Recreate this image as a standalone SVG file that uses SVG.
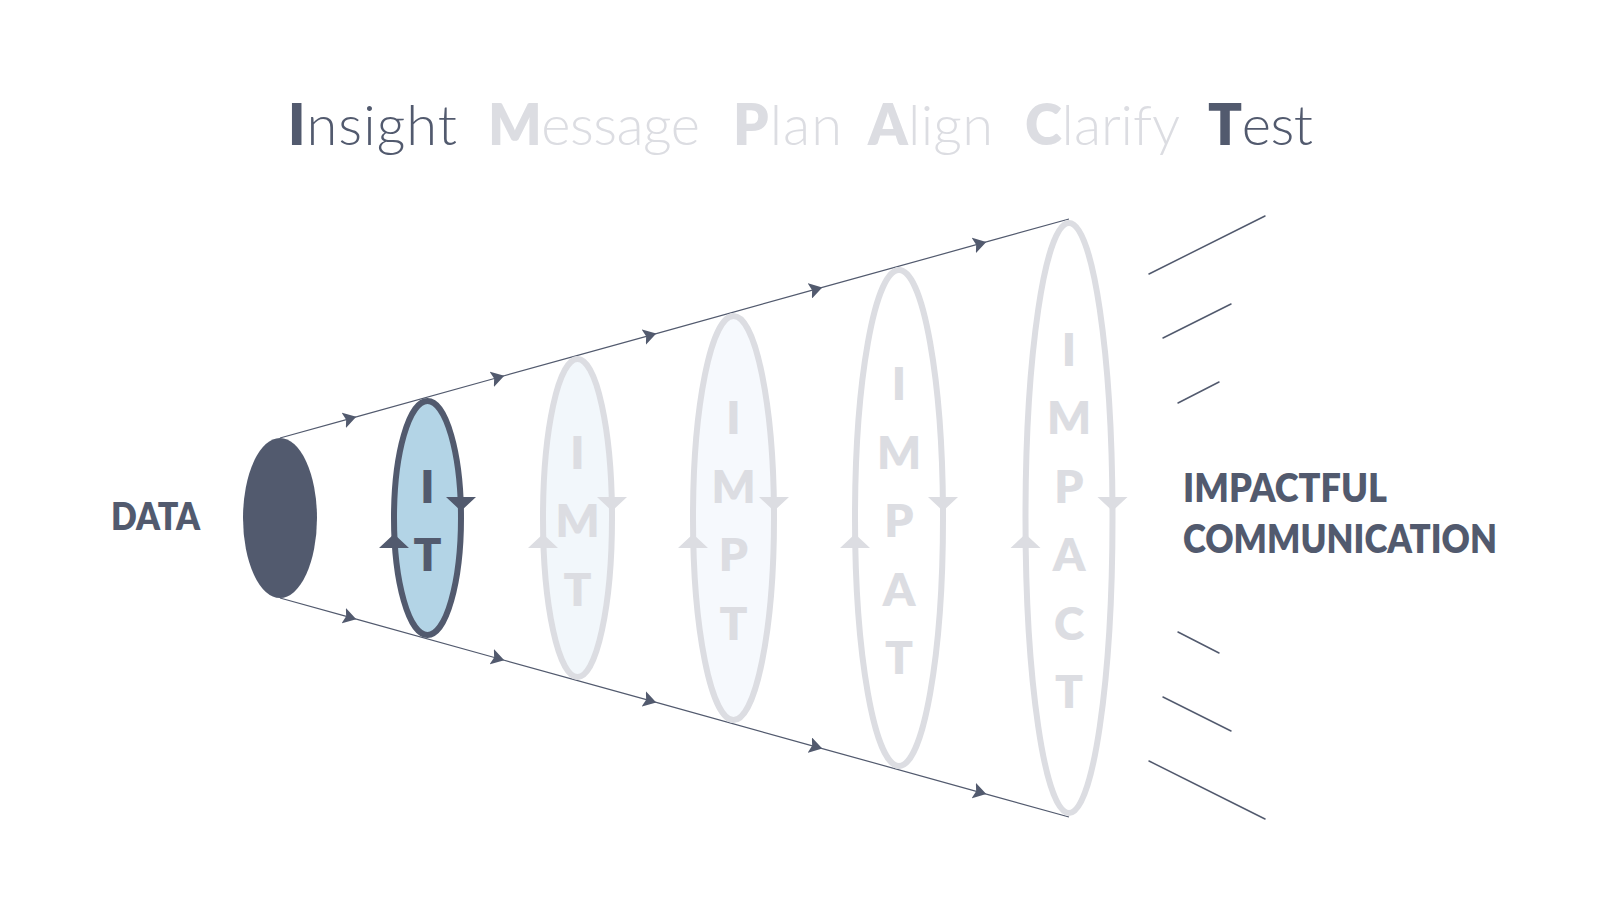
<svg xmlns="http://www.w3.org/2000/svg" width="1600" height="900" viewBox="0 0 1600 900">
<style>
.ttl{font-family:Lato,"Liberation Sans",sans-serif;font-size:56px;font-weight:300}
.b{font-weight:800}
.dk{fill:#525a6e}
.lg{fill:#dcdde2}
.lbl{font-family:Lato,"Liberation Sans",sans-serif;font-weight:800;fill:#525a6e}
.lt{font-family:Lato,"Liberation Sans",sans-serif;font-size:46px;font-weight:800;text-anchor:middle}
.ring{stroke:#dcdde2;stroke-width:6}
.cone{stroke:#525a6e;stroke-width:1.2;fill:none;marker-mid:url(#arr)}
.ray{stroke:#525a6e;stroke-width:1.5;stroke-linecap:round}
</style>
<defs>
<marker id="arr" viewBox="0 0 13 16" refX="6.5" refY="8" markerWidth="13" markerHeight="16" markerUnits="userSpaceOnUse" orient="auto">
<path d="M0,0 L13,8 L0,16 L2.5,8 Z" fill="#525a6e"/>
</marker>
</defs>
<rect width="1600" height="900" fill="#ffffff"/>

<g id="title" class="ttl">
<text x="288" y="145" class="dk" textLength="169" lengthAdjust="spacing"><tspan class="b">I</tspan>nsight</text>
<text x="488" y="145" class="lg" textLength="212" lengthAdjust="spacing"><tspan class="b">M</tspan>essage</text>
<text x="733" y="145" class="lg" textLength="109" lengthAdjust="spacing"><tspan class="b">P</tspan>lan</text>
<text x="868" y="145" class="lg" textLength="125" lengthAdjust="spacing"><tspan class="b">A</tspan>lign</text>
<text x="1025" y="145" class="lg" textLength="155" lengthAdjust="spacing"><tspan class="b">C</tspan>larify</text>
<text x="1208" y="145" class="dk" textLength="105" lengthAdjust="spacing"><tspan class="b">T</tspan>est</text>
</g>

<g id="connectors">
<polyline class="cone" points="280,438 350,418.6 498,377.5 650,335.3 816,289.2 980,243.7 1069,219"/>
<polyline class="cone" points="280,598 350,617.4 498,658.5 650,700.7 816,746.8 980,792.3 1069,817"/>
<line class="ray" x1="1149" y1="274" x2="1265" y2="216"/>
<line class="ray" x1="1163" y1="338" x2="1231" y2="304"/>
<line class="ray" x1="1178" y1="403" x2="1219" y2="382"/>
<line class="ray" x1="1178" y1="632" x2="1219" y2="653"/>
<line class="ray" x1="1163" y1="697" x2="1231" y2="731"/>
<line class="ray" x1="1149" y1="761" x2="1265" y2="819"/>
</g>

<g id="data">
<ellipse cx="280" cy="518" rx="37" ry="80" fill="#525a6e"/>
<text class="lbl" x="111" y="530" font-size="38" textLength="89" lengthAdjust="spacingAndGlyphs">DATA</text>
</g>

<g id="node-it">
<ellipse cx="427.5" cy="518" rx="33.5" ry="117" fill="#b3d4e6" stroke="#525a6e" stroke-width="6"/>
<path class="dk" d="M446,497 L476,497 L461,511 Z M394,534 L379,548 L409,548 Z"/>
<text class="lt dk" x="427.5" y="502.8">I</text>
<text class="lt dk" x="427.5" y="571.3">T</text>
</g>

<g id="node-imt">
<ellipse class="ring" cx="577.5" cy="518" rx="34.5" ry="159" fill="#f2f7fb"/>
<path class="lg" d="M597,497 L627,497 L612,511 Z M543,534 L528,548 L558,548 Z"/>
<text class="lt lg" x="577.5" y="468.5">I</text>
<text class="lt lg" x="577.5" y="537">M</text>
<text class="lt lg" x="577.5" y="605.5">T</text>
</g>

<g id="node-impt">
<ellipse class="ring" cx="733.5" cy="518" rx="40.5" ry="202" fill="#f6f9fd"/>
<path class="lg" d="M759,497 L789,497 L774,511 Z M693,534 L678,548 L708,548 Z"/>
<text class="lt lg" x="733.5" y="434.3">I</text>
<text class="lt lg" x="733.5" y="502.8">M</text>
<text class="lt lg" x="733.5" y="571.3">P</text>
<text class="lt lg" x="733.5" y="639.8">T</text>
</g>

<g id="node-impat">
<ellipse class="ring" cx="899" cy="518" rx="44" ry="248" fill="#ffffff"/>
<path class="lg" d="M928,497 L958,497 L943,511 Z M855,534 L840,548 L870,548 Z"/>
<text class="lt lg" x="899" y="400">I</text>
<text class="lt lg" x="899" y="468.5">M</text>
<text class="lt lg" x="899" y="537">P</text>
<text class="lt lg" x="899" y="605.5">A</text>
<text class="lt lg" x="899" y="674">T</text>
</g>

<g id="node-impact">
<ellipse class="ring" cx="1069" cy="518" rx="43.5" ry="295" fill="#ffffff"/>
<path class="lg" d="M1097.5,497 L1127.5,497 L1112.5,511 Z M1025.5,534 L1010.5,548 L1040.5,548 Z"/>
<text class="lt lg" x="1069" y="365.8">I</text>
<text class="lt lg" x="1069" y="434.3">M</text>
<text class="lt lg" x="1069" y="502.8">P</text>
<text class="lt lg" x="1069" y="571.3">A</text>
<text class="lt lg" x="1069" y="639.8">C</text>
<text class="lt lg" x="1069" y="708.3">T</text>
</g>

<g id="result">
<text class="lbl" x="1183" y="502" font-size="39" textLength="204" lengthAdjust="spacingAndGlyphs">IMPACTFUL</text>
<text class="lbl" x="1183" y="553" font-size="39" textLength="314" lengthAdjust="spacingAndGlyphs">COMMUNICATION</text>
</g>
</svg>
